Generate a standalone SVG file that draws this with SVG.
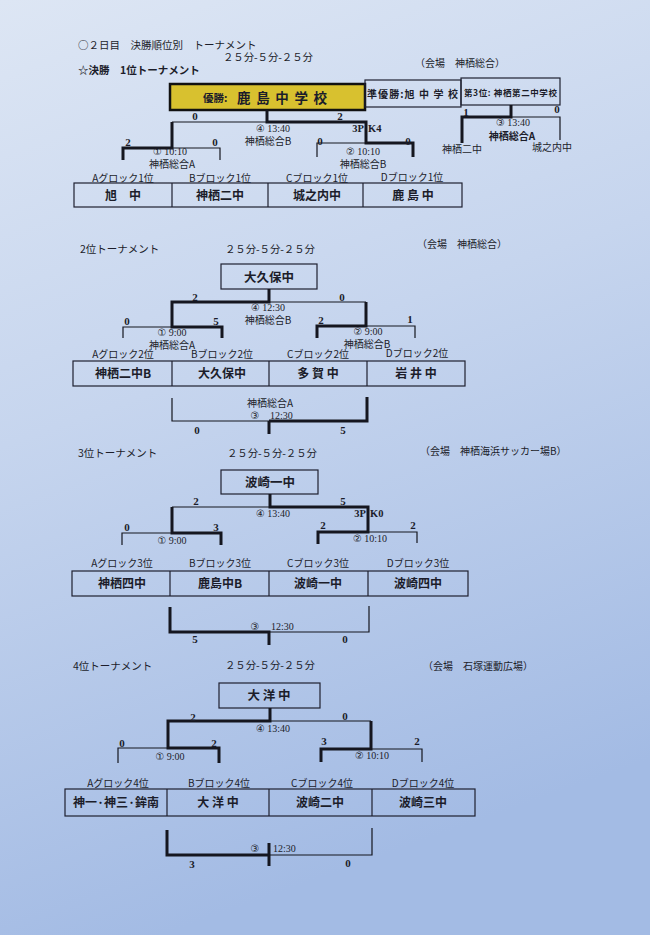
<svg xmlns="http://www.w3.org/2000/svg" width="650" height="935" viewBox="0 0 650 935">
<defs>
<linearGradient id="bg" x1="0" y1="0" x2="0.25" y2="1">
<stop offset="0" stop-color="#dde6f4"/>
<stop offset="0.45" stop-color="#c6d5ee"/>
<stop offset="1" stop-color="#a3bbe4"/>
</linearGradient>
<style>
text{fill:#1c1d2a;}
.hd{font-family:"Noto Sans CJK JP","Liberation Serif",serif;font-size:10.5px;}
.vn{font-family:"Noto Sans CJK JP",sans-serif;font-size:10px;}
.sc{font-family:"Liberation Serif",serif;font-weight:bold;font-size:11px;text-anchor:middle;}
.tm{font-family:"Liberation Serif","DejaVu Sans",serif;font-size:10px;text-anchor:middle;}
.pk{font-family:"Liberation Serif",serif;font-weight:bold;font-size:10.5px;}
.pl{font-family:"Noto Sans CJK JP",sans-serif;font-size:10px;text-anchor:middle;}
.bl{font-family:"Noto Sans CJK JP",sans-serif;font-size:10px;text-anchor:middle;}
.tn{font-family:"Noto Sans CJK JP",sans-serif;font-weight:bold;font-size:12px;text-anchor:middle;}
.wn{font-family:"Noto Sans CJK JP",sans-serif;font-weight:bold;font-size:12.5px;text-anchor:middle;}
.box{fill:none;stroke:#1e2030;stroke-width:1.2;}
.thick{fill:none;stroke:#15161f;stroke-width:3;}
.thin{fill:none;stroke:#15161f;stroke-width:1.2;}
</style>
</defs>
<rect x="0" y="0" width="650" height="935" fill="url(#bg)"/>

<!-- ===== Section 1 ===== -->
<g id="header1">
<text class="hd" x="78" y="49">○２日目　決勝順位別　トーナメント</text>
<text class="hd" x="223" y="61" textLength="90">２５分-５分-２５分</text>
<text class="hd" x="78" y="74" font-weight="bold">☆決勝　1位トーナメント</text>
<text class="vn" x="415" y="67">（会場　神栖総合）</text>
</g>
<g id="winner1">
<rect x="170" y="84" width="195" height="26" fill="#d8c12f" stroke="#111" stroke-width="2.5"/>
<text class="tn" x="203" y="102" style="font-size:10.5px;text-anchor:start">優勝:</text>
<text class="tn" x="237" y="102.5" style="font-size:13.5px;text-anchor:start" textLength="90">鹿 島 中 学 校</text>
</g>
<g id="runnerup1">
<rect class="box" x="365" y="80" width="96" height="27"/>
<text class="tn" x="367" y="98" style="font-size:10px;text-anchor:start" textLength="91">準優勝:旭 中 学 校</text>
</g>
<g id="third1">
<rect class="box" x="461" y="78" width="99" height="27"/>
<text class="tn" x="464" y="96" style="font-size:8.5px;text-anchor:start" textLength="93">第3位: 神栖第二中学校</text>
</g>
<g id="teams1">
<text class="bl" x="123" y="182">Aグロック1位</text>
<text class="bl" x="220" y="182">Bブロック1位</text>
<text class="bl" x="317" y="182">Cブロック1位</text>
<text class="bl" x="412" y="181">Dブロック1位</text>
<rect class="box" x="74" y="183" width="388" height="24"/>
<path class="box" d="M172 183V207M268 183V207M363 183V207"/>
<text class="tn" x="123" y="200">旭　中</text>
<text class="tn" x="220" y="200">神栖二中</text>
<text class="tn" x="317" y="200">城之内中</text>
<text class="tn" x="413" y="200">鹿 島 中</text>
</g>
<g id="connectors1">
<path class="thick" d="M267 110V122H366V143H413V157"/>
<path class="thin" d="M267 122H172"/>
<path class="thick" d="M172 122V148H123V160"/>
<path class="thin" d="M172 148H220V160"/>
<path class="thin" d="M366 143H317V157"/>
<path class="thick" d="M511 105V117H462V143"/>
<path class="thin" d="M511 117H560V140"/>
</g>
<g id="labels1">
<text class="sc" x="195" y="120">0</text>
<text class="sc" x="340" y="120">2</text>
<text class="tm" x="273" y="132">④ 13:40</text>
<text class="pl" x="268" y="145">神栖総合B</text>
<text class="pk" x="364" y="132" style="text-anchor:end">3P</text>
<text class="pk" x="368" y="132">K4</text>
<text class="sc" x="128" y="146">2</text>
<text class="sc" x="215" y="146">0</text>
<text class="tm" x="170" y="155">① 10:10</text>
<text class="pl" x="172" y="168">神栖総合A</text>
<text class="sc" x="320" y="145">0</text>
<text class="sc" x="408" y="145">0</text>
<text class="tm" x="363" y="155">② 10:10</text>
<text class="pl" x="363" y="168">神栖総合B</text>
<text class="sc" x="466" y="116">1</text>
<text class="sc" x="557" y="113">0</text>
<text class="tm" x="513" y="126">③ 13:40</text>
<text class="pl" x="512" y="140" font-weight="bold">神栖総合A</text>
<text class="pl" x="462" y="153">神栖二中</text>
<text class="pl" x="552" y="151">城之内中</text>
</g>

<!-- ===== Section 2 ===== -->
<g id="header2">
<text class="hd" x="80" y="253">2位トーナメント</text>
<text class="hd" x="225" y="253" textLength="90">２５分-５分-２５分</text>
<text class="vn" x="417" y="248">（会場　神栖総合）</text>
</g>
<g id="winner2">
<rect class="box" x="221" y="264" width="96" height="25"/>
<text class="wn" x="269" y="282">大久保中</text>
</g>
<g id="teams2">
<text class="bl" x="123" y="358">Aグロック2位</text>
<text class="bl" x="222" y="358">Bブロック2位</text>
<text class="bl" x="318" y="358">Cブロック2位</text>
<text class="bl" x="417" y="357">Dブロック2位</text>
<rect class="box" x="73" y="361" width="392" height="25"/>
<path class="box" d="M172 361V386M269 361V386M367 361V386"/>
<text class="tn" x="123" y="378">神栖二中B</text>
<text class="tn" x="222" y="378">大久保中</text>
<text class="tn" x="318" y="378">多 賀 中</text>
<text class="tn" x="416" y="378">岩 井 中</text>
</g>
<g id="connectors2">
<path class="thick" d="M269 289V302H172V327H222V338"/>
<path class="thin" d="M269 302H366"/>
<path class="thick" d="M366 302V326H317V338"/>
<path class="thin" d="M172 327H123V338"/>
<path class="thin" d="M366 326H415V338"/>
<path class="thin" d="M172 398V421H269"/>
<path class="thick" d="M269 421H367V397M269 421V434"/>
</g>
<g id="labels2">
<text class="sc" x="195" y="301">2</text>
<text class="sc" x="342" y="301">0</text>
<text class="tm" x="268" y="311">④ 12:30</text>
<text class="pl" x="268" y="324">神栖総合B</text>
<text class="sc" x="127" y="325">0</text>
<text class="sc" x="216" y="325">5</text>
<text class="tm" x="172" y="336">① 9:00</text>
<text class="pl" x="172" y="349">神栖総合A</text>
<text class="sc" x="321" y="324">2</text>
<text class="sc" x="410" y="323">1</text>
<text class="tm" x="368" y="335">② 9:00</text>
<text class="pl" x="367" y="348">神栖総合B</text>
<text class="pl" x="270" y="407">神栖総合A</text>
<text class="tm" x="255" y="419">③</text>
<text class="tm" x="270" y="419" style="text-anchor:start">12:30</text>
<text class="sc" x="197" y="434">0</text>
<text class="sc" x="343" y="434">5</text>
</g>

<!-- ===== Section 3 ===== -->
<g id="header3">
<text class="hd" x="78" y="457">3位トーナメント</text>
<text class="hd" x="227" y="457" textLength="90">２５分-５分-２５分</text>
<text class="vn" x="420" y="455">（会場　神栖海浜サッカー場B）</text>
</g>
<g id="winner3">
<rect class="box" x="221" y="470" width="97" height="24"/>
<text class="wn" x="270" y="487">波崎一中</text>
</g>
<g id="teams3">
<text class="bl" x="122" y="567">Aグロック3位</text>
<text class="bl" x="220" y="567">Bブロック3位</text>
<text class="bl" x="318" y="567">Cブロック3位</text>
<text class="bl" x="418" y="567">Dブロック3位</text>
<rect class="box" x="72" y="571" width="396" height="25"/>
<path class="box" d="M170 571V596M269 571V596M368 571V596"/>
<text class="tn" x="122" y="588">神栖四中</text>
<text class="tn" x="220" y="588">鹿島中B</text>
<text class="tn" x="318" y="588">波崎一中</text>
<text class="tn" x="418" y="588">波崎四中</text>
</g>
<g id="connectors3">
<path class="thick" d="M270 494V507H368V532H318V544"/>
<path class="thin" d="M270 507H172"/>
<path class="thick" d="M172 507V533H221V545"/>
<path class="thin" d="M172 533H122V545"/>
<path class="thin" d="M368 532H417V543"/>
<path class="thick" d="M170 607V632H269V645"/>
<path class="thin" d="M269 632H369V606"/>
</g>
<g id="labels3">
<text class="sc" x="196" y="505">2</text>
<text class="sc" x="343" y="505">5</text>
<text class="tm" x="273" y="517">④ 13:40</text>
<text class="pk" x="366" y="517" style="text-anchor:end">3P</text>
<text class="pk" x="370" y="517">K0</text>
<text class="sc" x="127" y="531">0</text>
<text class="sc" x="216" y="531">3</text>
<text class="tm" x="172" y="544">① 9:00</text>
<text class="sc" x="323" y="529">2</text>
<text class="sc" x="413" y="529">2</text>
<text class="tm" x="370" y="542">② 10:10</text>
<text class="tm" x="255" y="630">③</text>
<text class="tm" x="271" y="630" style="text-anchor:start">12:30</text>
<text class="sc" x="195" y="643">5</text>
<text class="sc" x="345" y="643">0</text>
</g>

<!-- ===== Section 4 ===== -->
<g id="header4">
<text class="hd" x="73" y="670">4位トーナメント</text>
<text class="hd" x="225" y="669" textLength="90">２５分-５分-２５分</text>
<text class="vn" x="423" y="670">（会場　石塚運動広場）</text>
</g>
<g id="winner4">
<rect class="box" x="219" y="683" width="101" height="25"/>
<text class="wn" x="269" y="700">大 洋 中</text>
</g>
<g id="teams4">
<text class="bl" x="118" y="787">Aグロック4位</text>
<text class="bl" x="219" y="787">Bブロック4位</text>
<text class="bl" x="322" y="787">Cブロック4位</text>
<text class="bl" x="423" y="787">Dブロック4位</text>
<rect class="box" x="65" y="789" width="410" height="27"/>
<path class="box" d="M167 789V816M269 789V816M372 789V816"/>
<text class="tn" x="116" y="807">神一·神三·鉾南</text>
<text class="tn" x="218" y="807">大 洋 中</text>
<text class="tn" x="320" y="807">波崎二中</text>
<text class="tn" x="423" y="807">波崎三中</text>
</g>
<g id="connectors4">
<path class="thick" d="M270 708V721H168V748H219V763"/>
<path class="thin" d="M270 721H371"/>
<path class="thick" d="M371 721V749H321V762"/>
<path class="thin" d="M168 748H118V763"/>
<path class="thin" d="M371 749H422V762"/>
<path class="thick" d="M167 830V855H269M269 843V866"/>
<path class="thin" d="M269 855H372V828"/>
</g>
<g id="labels4">
<text class="sc" x="193" y="721">2</text>
<text class="sc" x="345" y="720">0</text>
<text class="tm" x="273" y="732">④ 13:40</text>
<text class="sc" x="122" y="747">0</text>
<text class="sc" x="214" y="747">2</text>
<text class="tm" x="170" y="760">① 9:00</text>
<text class="sc" x="324" y="745">3</text>
<text class="sc" x="417" y="745">2</text>
<text class="tm" x="372" y="759">② 10:10</text>
<text class="tm" x="255" y="852">③</text>
<text class="tm" x="273" y="852" style="text-anchor:start">12:30</text>
<text class="sc" x="192" y="868">3</text>
<text class="sc" x="348" y="867">0</text>
</g>
</svg>
